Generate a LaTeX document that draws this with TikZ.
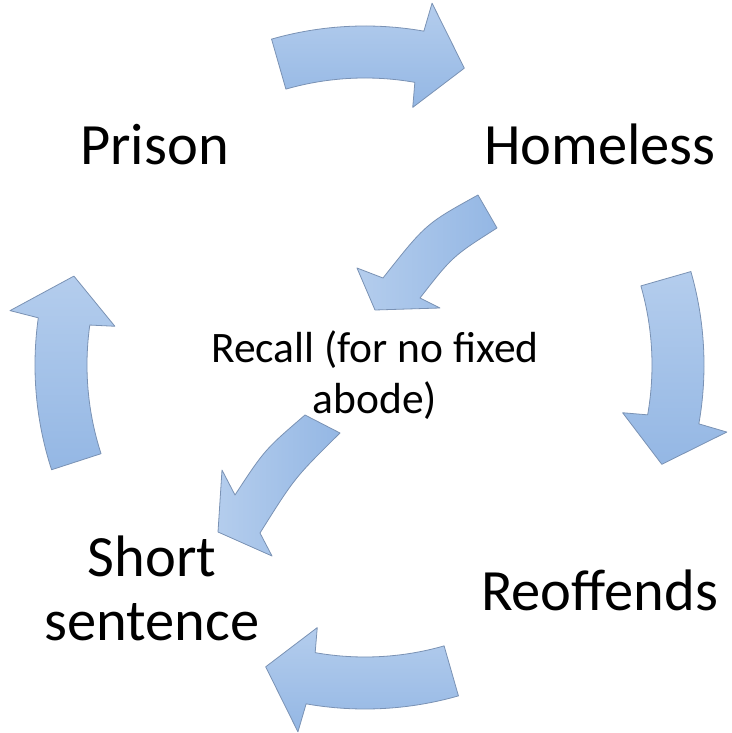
\documentclass[tikz,border=0pt]{standalone}
\usepackage{fontspec}
\setmainfont{Carlito}
\definecolor{arrowlight}{RGB}{180,205,237}
\definecolor{arrowdark}{RGB}{148,183,228}
\definecolor{arrowedge}{RGB}{122,146,180}
\tikzset{
  blockarrow/.style={draw=arrowedge, line width=0.8pt, line join=round,
    top color=arrowlight, bottom color=arrowdark},
  slantarrow/.style={blockarrow, left color=arrowlight, right color=arrowdark},
  bigword/.style={font=\fontsize{58.5}{64}\selectfont, inner sep=0pt, anchor=base, align=center},
  smallword/.style={font=\fontsize{43.5}{51}\selectfont, inner sep=0pt, anchor=base, align=center}
}

\begin{document}
\begin{tikzpicture}[x=1pt,y=1pt]
	\useasboundingbox (-365,-368) rectangle (366,365);

	% the four curved arrows round the cycle
	\foreach \c/\dx/\dy in {89/0/0,-1/0/0,-91/0/-5,181/9/0}{
		\pgfmathsetmacro\tail{\c+17}
		\pgfmathsetmacro\base{\c-9}
		\pgfmathsetmacro\barb{\c-9.5}
		\pgfmathsetmacro\tip{\c-17.5}
		\draw[blockarrow, shift={(\dx,\dy)}] (\tail:339) arc[start angle=\tail, end angle=\base, radius=339]
			-- (\barb:368) -- (\tip:313) -- (\barb:262) -- (\base:287)
			arc[start angle=\base, end angle=\tail, radius=287] -- cycle;
	}

	% the two arrows through the recall
	\draw[slantarrow] (113,170) .. controls (60.8,141.2) .. (18,87) -- (-8,97) -- (10,55)
		-- (75,57) -- (55,67) .. controls (87.5,108.7) .. (132,137) -- cycle;
	\draw[slantarrow] (-60,-50) .. controls (-100.3,-84.7) .. (-130,-130) -- (-143,-105)
		-- (-147,-167) -- (-93,-191) -- (-105,-168) .. controls (-70.3,-112.7) .. (-25,-68) -- cycle;

	\node[bigword] (prison) at (-210.5,200) {Prison};
	\node[bigword] (homeless) at (235,200) {Homeless};
	\node[bigword] (reoffends) at (234.5,-245) {Reoffends};
	\node[bigword] (short) at (-213,-275) {Short\\sentence};
	\node[smallword] (recall) at (10,-49) {Recall (for no fixed\\abode)};
\end{tikzpicture}
\end{document}
